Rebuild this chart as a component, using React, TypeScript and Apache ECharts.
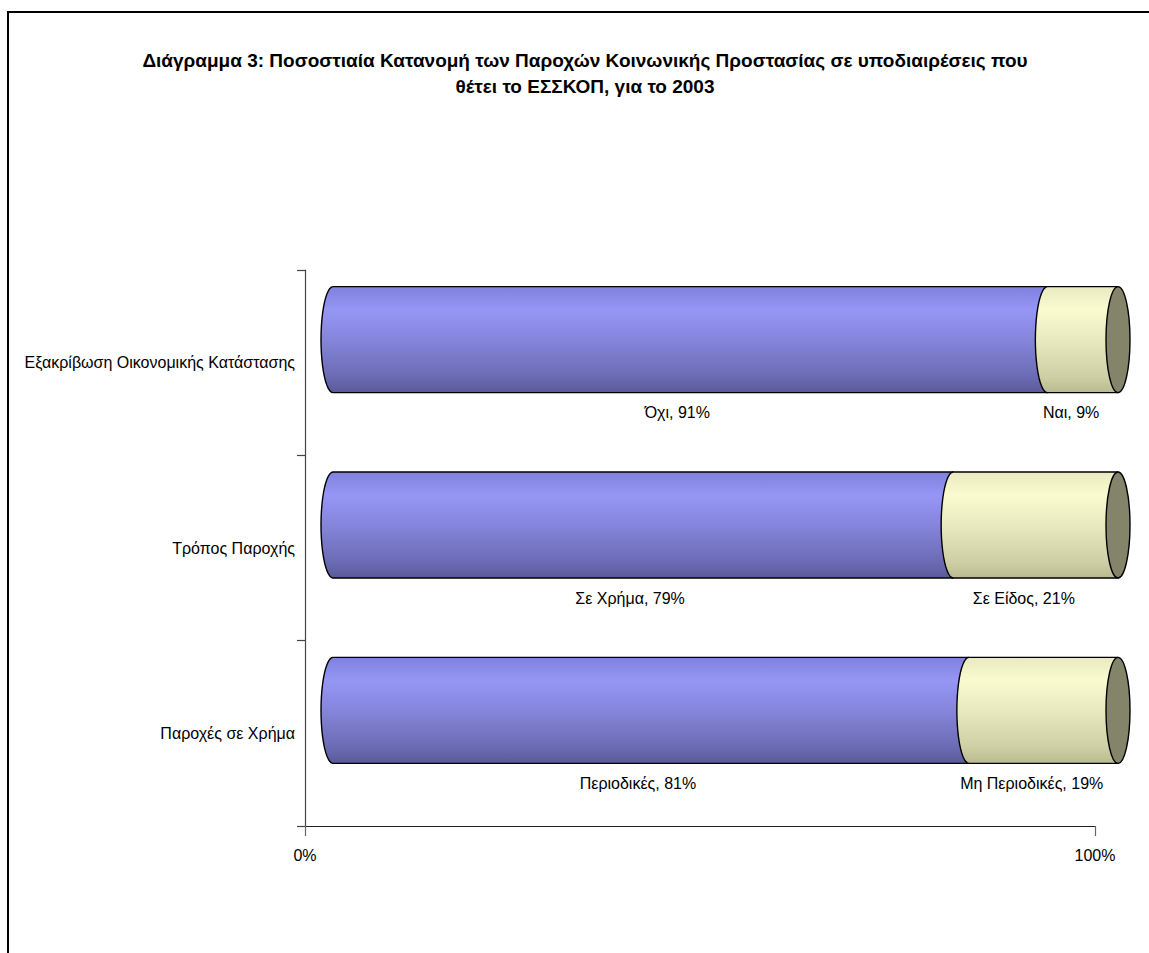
import React, { useEffect, useRef } from "react";
import * as echarts from "echarts";

const categories = ["Παροχές σε Χρήμα", "Τρόπος Παροχής", "Εξακρίβωση Οικονομικής Κατάστασης"];
const firstValues = [81, 79, 91];
const secondValues = [19, 21, 9];
const firstNames = ["Περιοδικές", "Σε Χρήμα", "Όχι"];
const secondNames = ["Μη Περιοδικές", "Σε Είδος", "Ναι"];
const xMin = 0;
const xMax = 100;
const titleLines = [
  "Διάγραμμα 3: Ποσοστιαία Κατανομή των Παροχών Κοινωνικής Προστασίας σε υποδιαιρέσεις που",
  "θέτει το ΕΣΣΚΟΠ, για το 2003",
];

const FONT = '"Liberation Sans", Arial, sans-serif';

export default function App() {
  const ref = useRef<HTMLDivElement>(null);
  useEffect(() => {
    if (!ref.current) return;
    const chart = echarts.init(ref.current, null, { renderer: "svg" });

    const purple = () =>
      new echarts.graphic.LinearGradient(0, 0, 0, 1, [
        { offset: 0, color: "#8080de" },
        { offset: 0.22, color: "#9696f6" },
        { offset: 0.5, color: "#8585dc" },
        { offset: 0.85, color: "#6b6bb4" },
        { offset: 1, color: "#5a5a98" },
      ]);
    const yellow = () =>
      new echarts.graphic.LinearGradient(0, 0, 0, 1, [
        { offset: 0, color: "#eaeac2" },
        { offset: 0.22, color: "#fbfbd0" },
        { offset: 0.5, color: "#e9e9c0" },
        { offset: 0.85, color: "#cfcfa5" },
        { offset: 1, color: "#baba92" },
      ]);

    const data = categories.map((_, i) => [i, firstValues[i], secondValues[i]]);

    const renderItem = (params: any, api: any) => {
      const c = api.value(0);
      const v1 = api.value(1);
      const v2 = api.value(2);
      const idx = params.dataIndex;
      const a0 = api.coord([xMin, c]);
      const a100 = api.coord([xMax, c]);
      const span = a100[0] - a0[0];
      const bx = (v: number) => a0[0] + 28 + (v / 100) * (span - 5);
      const ax = (v: number) => a0[0] + (v / 100) * span;
      const cy = a0[1] - 23;
      const h = 53;
      const rx = 12;
      const N = 24;
      const seg = (xa: number, xb: number) => {
        const pts: number[][] = [
          [xa, cy - h],
          [xb, cy - h],
          [xb, cy + h],
        ];
        for (let i = N; i >= 0; i--) {
          const t = (Math.PI * i) / N;
          pts.push([xa - rx * Math.sin(t), cy - h * Math.cos(t)]);
        }
        return pts;
      };
      const x0 = bx(0);
      const x1 = bx(v1);
      const x2 = bx(v1 + v2);
      const m1 = v1 / 2;
      const m2 = v1 + v2 / 2;
      const lx1 = (ax(m1) + bx(m1)) / 2;
      const lx2 = (ax(m2) + bx(m2)) / 2;
      const ly = cy + h + 20;
      const stroke = { stroke: "#000", lineWidth: 1.4, lineJoin: "round" };
      const textStyle = (text: string) => ({
        text,
        font: `16px ${FONT}`,
        fill: "#000",
        align: "center",
        verticalAlign: "middle",
        textAlign: "center",
        textVerticalAlign: "middle",
      });
      return {
        type: "group",
        children: [
          { type: "polygon", z2: 1, shape: { points: seg(x0, x1) }, style: { fill: purple(), ...stroke } },
          { type: "polygon", z2: 2, shape: { points: seg(x1, x2) }, style: { fill: yellow(), ...stroke } },
          { type: "ellipse", z2: 3, shape: { cx: x2, cy, rx, ry: h }, style: { fill: "#84846a", ...stroke } },
          { type: "text", z2: 4, x: lx1, y: ly, style: textStyle(`${firstNames[idx]}, ${v1}%`) },
          { type: "text", z2: 4, x: lx2, y: ly, style: textStyle(`${secondNames[idx]}, ${v2}%`) },
        ],
      };
    };

    const titleStyle = (text: string) => ({
      text,
      font: `bold 19px ${FONT}`,
      fill: "#000",
      align: "center",
      verticalAlign: "middle",
      textAlign: "center",
      textVerticalAlign: "middle",
    });

    chart.setOption({
      animation: false,
      backgroundColor: "#fff",
      graphic: [
        {
          type: "rect",
          shape: { x: 8, y: 12, width: 1400, height: 1200 },
          style: { fill: "none", stroke: "#000", lineWidth: 2 },
          silent: true,
        },
        { type: "text", x: 585, y: 60, style: titleStyle(titleLines[0]) },
        { type: "text", x: 585, y: 86, style: titleStyle(titleLines[1]) },
      ],
      grid: {
        left: 305,
        right: 54,
        top: 270,
        bottom: 127,
        containLabel: false,
        outerBoundsMode: "none",
      },
      xAxis: {
        type: "value",
        min: xMin,
        max: xMax,
        interval: 100,
        axisLine: { show: true, lineStyle: { color: "#222", width: 1.2 } },
        axisTick: { show: true, length: 10, lineStyle: { color: "#666", width: 1.2 } },
        splitLine: { show: false },
        axisLabel: {
          formatter: "{value}%",
          margin: 21,
          fontSize: 16,
          fontFamily: FONT,
          color: "#000",
        },
      },
      yAxis: {
        type: "category",
        data: categories,
        axisLine: { show: true, lineStyle: { color: "#444", width: 1.2 } },
        axisTick: { show: true, length: 8, lineStyle: { color: "#444", width: 1.2 } },
        axisLabel: { margin: 10, fontSize: 16, fontFamily: FONT, color: "#000" },
        splitLine: { show: false },
      },
      series: [
        {
          type: "custom",
          renderItem,
          data,
          encode: { x: [1, 2], y: 0 },
          clip: false,
        },
      ],
    });
    return () => chart.dispose();
  }, []);
  return (
    <div
      ref={ref}
      style={{ position: "fixed", left: 0, top: 0, width: 1149, height: 953, background: "#fff" }}
    />
  );
}
